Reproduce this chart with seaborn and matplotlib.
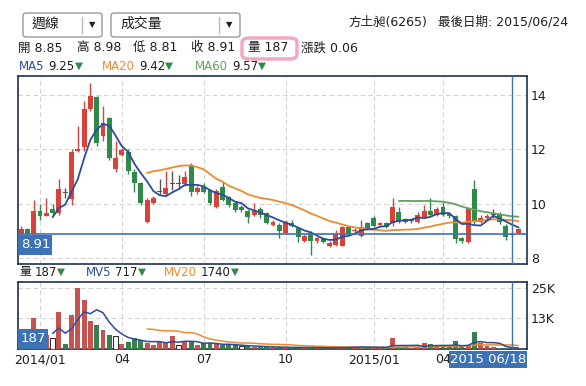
import numpy as np
import pandas as pd
import seaborn as sns
import matplotlib.pyplot as plt
from matplotlib.patches import FancyBboxPatch, Rectangle
from matplotlib.lines import Line2D

# weekly candles, 2013/12 .. 2015/06
opens = [8.88, 9.07, 8.88, 9.74, 9.57, 9.82, 9.66, 10.40, 10.17, 11.95,
         12.08, 13.50, 13.94, 12.50, 13.14, 11.28, 11.81, 11.90, 11.17, 10.76,
         9.35, 10.05, 10.45, 10.36, 10.73, 10.73, 10.73, 11.41, 10.45, 10.62,
         10.52, 9.88, 10.63, 10.27, 10.03, 9.90, 9.74, 9.59, 9.80, 9.66,
         9.22, 9.23, 8.94, 9.31, 9.13, 8.65, 8.94, 8.65, 8.76, 8.45,
         8.49, 8.46, 9.14, 9.00, 8.82, 9.29, 9.47, 9.23, 9.31, 9.29,
         9.72, 9.45, 9.38, 9.35, 9.53, 9.74, 9.59, 9.88, 9.62, 9.56,
         8.73, 8.61, 10.54, 9.35, 9.50, 9.59, 9.62, 9.20, 8.85, 8.92]
highs = [9.19, 9.10, 10.15, 10.00, 10.20, 10.00, 10.90, 10.60, 12.00, 12.85,
         13.80, 14.45, 13.96, 13.60, 13.20, 12.33, 12.05, 12.00, 11.30, 10.80,
         10.20, 10.30, 10.90, 11.20, 11.20, 11.05, 11.20, 11.50, 10.65, 10.76,
         10.55, 10.55, 10.80, 10.30, 10.10, 9.95, 9.80, 10.03, 9.90, 9.70,
         9.40, 9.30, 9.40, 9.40, 9.15, 8.90, 9.00, 8.80, 8.80, 8.65,
         9.04, 9.20, 9.18, 9.10, 9.41, 9.35, 9.55, 9.35, 9.35, 10.21,
         9.90, 9.50, 9.45, 9.70, 9.95, 10.21, 9.90, 10.06, 9.70, 9.60,
         8.80, 9.90, 10.89, 9.60, 9.62, 9.80, 9.70, 9.25, 8.98, 9.12]
lows = [8.80, 8.80, 8.85, 9.40, 9.55, 9.60, 9.60, 10.20, 9.95, 11.90,
        11.95, 13.40, 12.14, 12.30, 11.60, 11.19, 11.75, 11.10, 10.45, 9.95,
        9.30, 10.00, 10.35, 10.30, 10.50, 10.55, 10.65, 10.30, 10.35, 10.40,
        9.95, 9.85, 10.10, 9.90, 9.70, 9.72, 9.29, 9.55, 9.50, 9.25,
        9.20, 8.76, 8.90, 9.15, 8.61, 8.60, 8.12, 8.55, 8.55, 8.40,
        8.45, 8.45, 8.85, 8.95, 8.78, 9.05, 9.15, 9.18, 9.10, 9.20,
        9.30, 9.28, 9.30, 9.30, 9.50, 9.55, 9.55, 9.55, 9.50, 8.55,
        8.55, 8.57, 9.25, 9.30, 9.45, 9.50, 9.25, 8.67, 8.81, 8.88]
closes = [9.07, 8.88, 9.75, 9.57, 9.68, 9.68, 10.55, 10.40, 11.90, 12.03,
          13.50, 13.96, 12.24, 12.98, 11.69, 11.69, 11.99, 11.22, 10.76, 10.03,
          10.15, 10.21, 10.45, 10.58, 10.73, 10.73, 11.00, 10.45, 10.58, 10.45,
          10.03, 10.48, 10.15, 9.96, 9.78, 9.78, 9.53, 9.75, 9.59, 9.29,
          9.35, 9.00, 9.32, 9.20, 8.77, 8.82, 8.65, 8.73, 8.61, 8.57,
          8.89, 9.16, 8.89, 9.04, 9.16, 9.10, 9.19, 9.31, 9.16, 9.88,
          9.35, 9.32, 9.38, 9.59, 9.74, 9.59, 9.82, 9.59, 9.55, 8.70,
          8.65, 9.86, 9.32, 9.50, 9.56, 9.59, 9.32, 8.79, 8.91, 9.08]
volumes = [5000, 4000, 12800, 5000, 6000, 4700, 15200, 2000, 14000, 25300,
           20000, 11700, 10000, 8000, 6000, 5300, 2000, 2900, 4700, 3700,
           2700, 1600, 3100, 2400, 5600, 1900, 3300, 3200, 1600, 2400,
           2400, 2300, 1600, 1600, 1600, 1300, 1300, 1000, 1000, 900,
           800, 900, 700, 600, 900, 600, 800, 500, 600, 500,
           900, 1100, 700, 1000, 1100, 700, 800, 600, 700, 4700,
           1000, 800, 700, 1000, 2400, 2300, 1200, 1100, 900, 3200,
           1000, 1900, 7200, 2400, 1200, 950, 650, 600, 187, 300]

tick_pos = [3, 16, 29, 42, 56, 67]
tick_labels = ["2014/01", "04", "07", "10", "2015/01", "04"]
cross_idx = 78
cross_date = "2015 06/18"

RED = "#d9413b"
GREEN = "#2e8a48"
DOJI = "#555555"
BLUE = "#2b4c9b"
ORANGE = "#ef8a2e"
MA60C = "#5fa35f"
NAVY = "#1d3050"
LBL = "#3d72b4"
GRID = "#d2d2d2"
TXT = "#1e1e1e"

sns.set_theme(style="white")
plt.rcParams["font.family"] = ["DejaVu Sans", "Noto Sans CJK TC"]

W, H = 586, 386
fig = plt.figure(figsize=(W / 100, H / 100), dpi=100)


def fx(px):
    return px / W


def fy(py):
    return 1 - py / H


ax = fig.add_axes([fx(18.3), fy(264.3), (526.7 - 18.3) / W, (264.3 - 75.5) / H])
axv = fig.add_axes([fx(18.3), fy(349.3), (526.7 - 18.3) / W, (349.3 - 281.7) / H])

idx = np.arange(len(closes))
o = np.array(opens)
c = np.array(closes)
hi = np.array(highs)
lo = np.array(lows)


def ma(vals, n):
    m = pd.Series(vals, dtype=float).rolling(n).mean()
    m[:n] = np.nan
    return m


# candles
cols = [RED if cc > oo else (GREEN if cc < oo else DOJI) for oo, cc in zip(o, c)]
ax.vlines(idx, lo, hi, colors=cols, lw=1, zorder=2)
body_h = np.maximum(np.abs(c - o), 0.025)
ax.bar(idx, body_h, bottom=np.minimum(o, c), width=0.78, color=cols,
       edgecolor=cols, linewidth=0, zorder=3)

df = pd.DataFrame({"idx": idx, "ma5": ma(closes, 5), "ma20": ma(closes, 20), "ma60": ma(closes, 60)})
for col, clr in [("ma60", MA60C), ("ma20", ORANGE), ("ma5", BLUE)]:
    d = df.dropna(subset=[col])
    sns.lineplot(x=d["idx"], y=d[col], color=clr, lw=1.3, ax=ax, zorder=4)

ax.axhline(closes[cross_idx], color=LBL, lw=1.2, zorder=5)

# volume
prev = np.r_[c[0], c[:-1]]
vdir = ["up" if a > b else ("down" if a < b else "flat") for a, b in zip(c, prev)]
vdir[0] = "up"
sns.barplot(x=idx, y=volumes, hue=vdir, palette={"up": RED, "down": GREEN, "flat": "white"},
            native_scale=True, width=0.78, dodge=False, errorbar=None, legend=False,
            linewidth=0, ax=axv, zorder=3)
for p in axv.patches:
    if p.get_facecolor()[:3] == (1.0, 1.0, 1.0):
        p.set_edgecolor("#333333")
        p.set_linewidth(0.8)

vdf = pd.DataFrame({"idx": idx, "mv5": ma(volumes, 5), "mv20": ma(volumes, 20)})
for col, clr in [("mv20", ORANGE), ("mv5", BLUE)]:
    d = vdf.dropna(subset=[col])
    sns.lineplot(x=d["idx"], y=d[col], color=clr, lw=1.1, ax=axv, zorder=4)

for a in (ax, axv):
    a.set_xlim(-0.45, 80.3)
    a.set_xlabel("")
    a.set_ylabel("")
    a.axvline(cross_idx, color=LBL, lw=1, zorder=6)
    a.set_xticks(tick_pos)
    a.grid(True, ls=(0, (4, 3)), color=GRID, lw=0.8)
    a.set_axisbelow(True)
    a.yaxis.tick_right()
    a.tick_params(length=0, labelsize=9, colors=TXT, pad=3)
    for s in a.spines.values():
        s.set_color(NAVY)
        s.set_linewidth(1.2)

ax.set_ylim(7.78, 14.72)
ax.set_yticks([8, 10, 12, 14])
ax.set_xticklabels([])
axv.set_ylim(0, 27700)
axv.set_yticks([13000, 25000])
axv.set_yticklabels(["13K", "25K"])
axv.set_xticklabels(tick_labels)


# figure-level text
def ftext(px, py, s, **kw):
    kw.setdefault("fontsize", 9)
    kw.setdefault("color", TXT)
    return fig.text(fx(px), fy(py), s, va="center", ha=kw.pop("ha", "left"), **kw)


renderer = fig.canvas.get_renderer()


def runs(px, py, parts, size=8.5):
    # place coloured pieces one after another
    x = px
    for s, clr, gap in parts:
        t = ftext(x, py, s, color=clr, fontsize=size if s != "▼" else 7.5)
        x += t.get_window_extent(renderer).width + gap


def fbox(x0, y0, x1, y1, **kw):
    fig.add_artist(Rectangle((fx(x0), fy(y1)), (x1 - x0) / W, (y1 - y0) / H,
                             transform=fig.transFigure, **kw))


# dropdowns
for x0, x1, dv, label in [(23, 102, 82, "週線"), (111, 240, 219, "成交量")]:
    fig.add_artist(FancyBboxPatch((fx(x0), fy(37)), (x1 - x0) / W, 24 / H,
                                  boxstyle="round,pad=0,rounding_size=0.006",
                                  transform=fig.transFigure, fc="white", ec="#9a9a9a", lw=1))
    fig.add_artist(Line2D([fx(dv), fx(dv)], [fy(17), fy(33)], transform=fig.transFigure,
                          color="#bbbbbb", lw=1))
    ftext(x0 + 9, 24, label, fontsize=10)
    ftext(dv + 7, 25, "▼", fontsize=6)

ftext(348, 22, "方土昶(6265)")
ftext(438, 22, "最後日期: 2015/06/24")

for px, s in [(18, "開 8.85"), (77, "高 8.98"), (133, "低 8.81"), (191, "收 8.91"),
              (248, "量 187"), (301, "漲跌 0.06")]:
    ftext(px, 48, s)
fig.add_artist(FancyBboxPatch((fx(242), fy(59)), 55 / W, 21 / H,
                              boxstyle="round,pad=0,rounding_size=0.012",
                              transform=fig.transFigure, fc="none", ec="#f2a7c6", lw=2.5))

runs(19, 66, [("MA5", BLUE, 4), ("9.25", TXT, 0), ("▼", GREEN, 0)])
runs(102, 66, [("MA20", ORANGE, 4), ("9.42", TXT, 0), ("▼", GREEN, 0)])
runs(195, 66, [("MA60", MA60C, 4), ("9.57", TXT, 0), ("▼", GREEN, 0)])

runs(19, 272, [("量", TXT, 4), ("187", TXT, 0), ("▼", GREEN, 0)])
runs(86, 272, [("MV5", BLUE, 4), ("717", TXT, 0), ("▼", GREEN, 0)])
runs(164, 272, [("MV20", ORANGE, 4), ("1740", TXT, 0), ("▼", GREEN, 0)])

# value labels
fbox(18.3, 235, 52.3, 255, fc=LBL, ec="none", zorder=10)
ftext(21, 245, "8.91", color="white", fontsize=9.5, zorder=11)
fbox(18.3, 329, 47.7, 349.3, fc=LBL, ec="none", zorder=10)
ftext(21, 339, "187", color="white", fontsize=9.5, zorder=11)
fbox(449.3, 351, 527.3, 368, fc=LBL, ec="none", zorder=10)
ftext(488.3, 359.5, cross_date, color="white", fontsize=9.5, ha="center", zorder=11)

fig.savefig("out.png", dpi=100)
